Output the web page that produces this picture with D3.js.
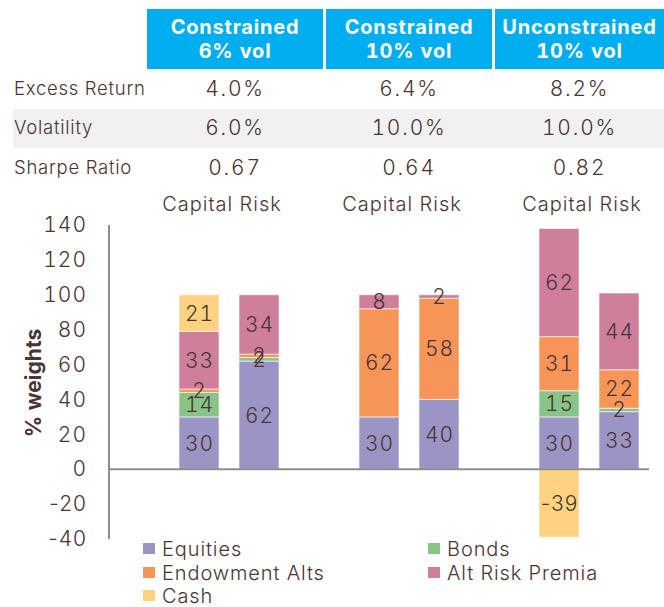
<!DOCTYPE html>
<html>
<head>
<meta charset="utf-8">
<script src="https://cdn.jsdelivr.net/npm/d3@7"></script>
<style>
  html, body { margin: 0; padding: 0; background: #fff; }
  svg { display: block; }
  text { font-family: "Inter", "Roboto", sans-serif; font-variant-numeric: tabular-nums; }
  text.neg { font-variant-numeric: normal; }
</style>
</head>
<body>
<svg id="chart" width="664" height="607"></svg>
<script>
// ---------- data ----------
const portfolios = ["Constrained\n6% vol", "Constrained\n10% vol", "Unconstrained\n10% vol"];
const excessReturn = ["4.0%", "6.4%", "8.2%"];
const volatilityVals = ["6.0%", "10.0%", "10.0%"];
const sharpeRatio = ["0.67", "0.64", "0.82"];
const rowLabels = ["Excess Return", "Volatility", "Sharpe Ratio"];
const barLabels = ["Capital", "Risk"];
// bar order: per portfolio, Capital then Risk
const bars = ["C6 Capital", "C6 Risk", "C10 Capital", "C10 Risk", "U10 Capital", "U10 Risk"];
const seriesNames = ["Equities", "Bonds", "Endowment Alts", "Alt Risk Premia", "Cash"];
const equities      = [30, 62, 30, 40, 30, 33];
const bonds         = [14,  2,  0,  0, 15,  2];
const endowmentAlts = [ 2,  2, 62, 58, 31, 22];
const altRiskPremia = [33, 34,  8,  2, 62, 44];
const cash          = [21,  0,  0,  0, -39, 0];
const yTicks = [140, 120, 100, 80, 60, 40, 20, 0, -20, -40];
const colors = ["#9b95c5", "#88c488", "#f79558", "#cf7e9b", "#fed281"];

// ---------- setup ----------
const svg = d3.select("#chart");
const textColor = "#4a3434";
const W = 664;

const slots = [];
bars.forEach((b, i) => { if (i % 2 === 0) slots.push("gap" + i); slots.push(b); });

const x = d3.scaleBand().domain(slots).range([109, 649]).paddingInner(1/3).paddingOuter(1/6);
const y = d3.scaleLinear().domain([-40, 140]).range([539, 225]);

// ---------- header boxes ----------
const boxX = [[147, 323], [326, 492], [495, 664]];
const boxCenters = boxX.map(b => (b[0] + b[1]) / 2);
const header = svg.append("g");
portfolios.forEach((p, i) => {
  header.append("rect").attr("x", boxX[i][0]).attr("y", 9)
    .attr("width", boxX[i][1] - boxX[i][0]).attr("height", 60).attr("fill", "#00aeef");
  p.split("\n").forEach((l, j) => {
    header.append("text").attr("x", boxCenters[i]).attr("y", 27 + j * 24)
      .attr("text-anchor", "middle").attr("dominant-baseline", "central")
      .attr("fill", "#fff").attr("font-weight", 700).attr("font-size", 20)
      .attr("letter-spacing", 0.8).text(l);
  });
});

// ---------- stats table ----------
svg.append("rect").attr("x", 13).attr("y", 109).attr("width", W - 13).attr("height", 39).attr("fill", "#f1f1f1");
const rowY = [88, 127, 167];
const rowVals = [excessReturn, volatilityVals, sharpeRatio];
rowLabels.forEach((r, i) => {
  svg.append("text").attr("x", 14).attr("y", rowY[i]).attr("dominant-baseline", "central")
    .attr("font-size", 18.5).attr("fill", textColor).attr("font-weight", 300)
    .attr("letter-spacing", 0.75).text(r);
  rowVals[i].forEach((v, j) => {
    svg.append("text").attr("x", boxCenters[j]).attr("y", rowY[i]).attr("text-anchor", "middle")
      .attr("dominant-baseline", "central").attr("font-size", 21).attr("font-weight", 300)
      .attr("letter-spacing", 1.8).attr("fill", textColor).text(v);
  });
});

// Capital / Risk labels
for (let g = 0; g < 3; g++) {
  const cx = (x(bars[2*g]) + x(bars[2*g+1]) + x.bandwidth()) / 2 - 7;
  svg.append("text").attr("x", cx).attr("y", 204).attr("text-anchor", "middle")
    .attr("dominant-baseline", "central").attr("font-size", 20).attr("font-weight", 300)
    .attr("letter-spacing", 1).attr("fill", textColor).text(barLabels.join(" "));
}

// ---------- y axis ----------
const yAxis = d3.axisLeft(y).tickValues(yTicks).tickSize(0).tickPadding(22).tickFormat(d => String(d));
const ya = svg.append("g").attr("transform", "translate(109,0)").call(yAxis);
ya.select(".domain").remove();
ya.selectAll("text").attr("font-size", 21).attr("font-weight", 300).attr("fill", textColor)
  .attr("font-family", "Inter, Roboto, sans-serif").attr("letter-spacing", 1)
  .attr("class", d => d < 0 ? "neg" : null);
svg.append("line").attr("x1", 109).attr("x2", 109).attr("y1", 225).attr("y2", 539)
  .attr("stroke", "#8e8e8e").attr("stroke-width", 2);

svg.append("text").attr("transform", "translate(33,383) rotate(-90)")
  .attr("text-anchor", "middle").attr("dominant-baseline", "central")
  .attr("font-size", 21).attr("font-weight", 700).attr("fill", textColor).text("% weights");

// ---------- stacked bars ----------
const table = bars.map((b, i) => ({
  bar: b,
  "Equities": equities[i], "Bonds": bonds[i], "Endowment Alts": endowmentAlts[i],
  "Alt Risk Premia": altRiskPremia[i], "Cash": cash[i]
}));
const stacked = d3.stack().keys(seriesNames).offset(d3.stackOffsetDiverging)(table);
const color = d3.scaleOrdinal().domain(seriesNames).range(colors);

const layers = svg.append("g").selectAll("g").data(stacked).join("g").attr("fill", d => color(d.key));
layers.selectAll("rect").data(d => d.filter(s => s[1] !== s[0])).join("rect")
  .attr("x", d => x(d.data.bar)).attr("width", x.bandwidth())
  .attr("y", d => y(Math.max(d[0], d[1])))
  .attr("height", d => Math.abs(y(d[0]) - y(d[1])))
  .attr("stroke", "#fff").attr("stroke-opacity", 0.6).attr("stroke-width", 1);

const labels = svg.append("g");
stacked.forEach(layer => {
  layer.filter(s => s[1] !== s[0]).forEach(s => {
    const v = s.data[layer.key];
    labels.append("text").attr("x", x(s.data.bar) + x.bandwidth() / 2 + 0.5)
      .attr("y", y((s[0] + s[1]) / 2)).attr("text-anchor", "middle").attr("dominant-baseline", "central")
      .attr("font-size", 21).attr("font-weight", 300).attr("letter-spacing", 1)
      .attr("class", v < 0 ? "neg" : null)
      .attr("fill", textColor).text(v);
  });
});

// zero line
svg.append("line").attr("x1", 109).attr("x2", 649).attr("y1", y(0)).attr("y2", y(0))
  .attr("stroke", "#8e8e8e").attr("stroke-width", 2);

// ---------- legend ----------
const legendPos = [[143, 549], [428, 549], [143, 573], [428, 573], [143, 596]];
seriesNames.forEach((s, i) => {
  const [lx, ly] = legendPos[i];
  svg.append("rect").attr("x", lx).attr("y", ly - 6).attr("width", 12).attr("height", 11).attr("fill", color(s));
  svg.append("text").attr("x", lx + 19).attr("y", ly).attr("dominant-baseline", "central")
    .attr("font-size", 20).attr("font-weight", 300).attr("letter-spacing", 0.9)
    .attr("fill", textColor).text(s);
});
</script>
</body>
</html>
